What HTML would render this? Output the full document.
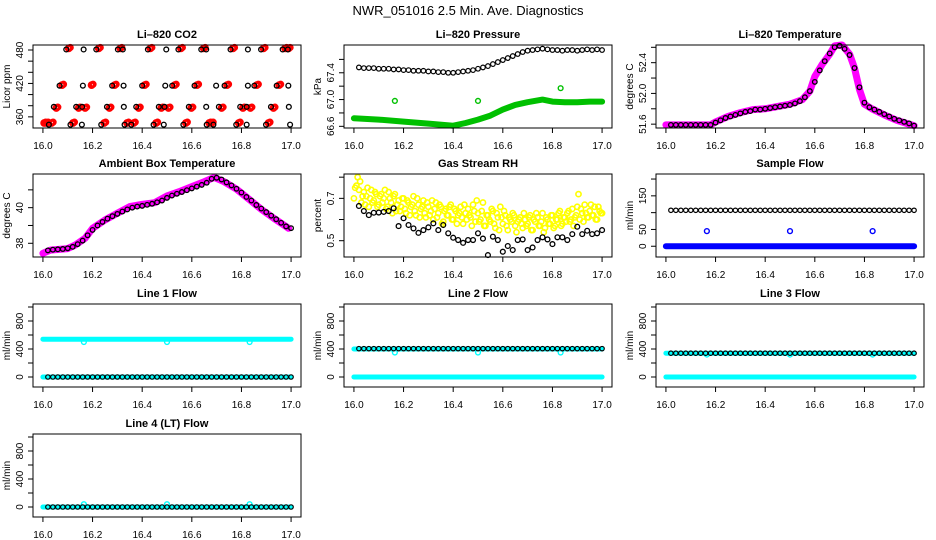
<!DOCTYPE html>
<html><head><meta charset="utf-8"><style>
html,body{margin:0;padding:0;background:#fff}
svg{display:block;font-family:"Liberation Sans",Arial,sans-serif}
</style></head><body>
<svg id="chart" width="936" height="540" viewBox="0 0 936 540" xmlns="http://www.w3.org/2000/svg">
<rect x="0" y="0" width="936" height="540" fill="#fff"/>
<text x="468" y="15" font-size="13" text-anchor="middle">NWR_051016  2.5 Min. Ave. Diagnostics</text>
</svg>
<script>
// ---------- shared categories ----------
const xTicks = [16.0,16.2,16.4,16.6,16.8,17.0];
const xTickLabels = ["16.0","16.2","16.4","16.6","16.8","17.0"];
const t50 = [16.02,16.04,16.06,16.08,16.10,16.12,16.14,16.16,16.18,16.20,16.22,16.24,16.26,16.28,16.30,16.32,16.34,16.36,16.38,16.40,16.42,16.44,16.46,16.48,16.50,16.52,16.54,16.56,16.58,16.60,16.62,16.64,16.66,16.68,16.70,16.72,16.74,16.76,16.78,16.80,16.82,16.84,16.86,16.88,16.90,16.92,16.94,16.96,16.98,17.00];
const outlierTimes = [16.165,16.5,16.833];

// ---------- CO2 ----------
const co2Levels = [481,416,378,346];
const co2BlackX = [
 [16.094,16.164,16.215,16.302,16.322,16.423,16.497,16.546,16.638,16.658,16.756,16.826,16.879,16.966,16.987],
 [16.067,16.161,16.279,16.325,16.40,16.493,16.521,16.611,16.698,16.732,16.826,16.852,16.942,16.989],
 [16.044,16.134,16.158,16.258,16.326,16.376,16.467,16.49,16.588,16.658,16.709,16.795,16.821,16.919,16.991],
 [16.024,16.111,16.157,16.235,16.329,16.356,16.446,16.487,16.566,16.66,16.687,16.779,16.821,16.899,16.996]];
const co2RedX = [
 [16.104,16.225,16.312,16.433,16.556,16.648,16.766,16.889,16.976,16.99],
 [16.077,16.196,16.289,16.41,16.531,16.621,16.742,16.862,16.952],
 [16.054,16.144,16.17,16.268,16.386,16.477,16.506,16.598,16.72,16.806,16.836,16.929],
 [16.005,16.015,16.035,16.121,16.247,16.339,16.366,16.456,16.576,16.67,16.68,16.789,16.909]];
const co2RedY = [483,417,376,349];

// ---------- Pressure ----------
const presBlack = [67.48,67.47,67.47,67.47,67.46,67.46,67.46,67.45,67.45,67.44,67.44,67.43,67.43,67.43,67.42,67.42,67.41,67.41,67.40,67.40,67.41,67.42,67.43,67.44,67.46,67.48,67.50,67.53,67.56,67.59,67.62,67.65,67.68,67.71,67.73,67.74,67.75,67.76,67.75,67.74,67.74,67.73,67.74,67.74,67.73,67.74,67.75,67.74,67.75,67.74];
const presGreenX = [16.0,16.1,16.2,16.3,16.4,16.45,16.5,16.55,16.6,16.65,16.7,16.76,16.8,16.85,16.9,16.95,17.0];
const presGreenY = [66.72,66.70,66.67,66.64,66.61,66.65,66.70,66.76,66.85,66.92,66.96,67.00,66.97,66.96,66.96,66.97,66.97];
const presOutY = [66.98,66.98,67.17];

// ---------- Li-820 Temperature ----------
const tempBlack = [51.59,51.59,51.59,51.59,51.59,51.59,51.59,51.59,51.59,51.62,51.65,51.68,51.70,51.72,51.74,51.76,51.77,51.79,51.79,51.80,51.81,51.82,51.83,51.84,51.85,51.87,51.90,51.95,52.03,52.15,52.30,52.42,52.52,52.60,52.62,52.58,52.50,52.33,52.08,51.88,51.82,51.79,51.76,51.73,51.70,51.67,51.65,51.63,51.61,51.58];
const tempMagX = [16.0,16.18,16.2,16.25,16.3,16.35,16.4,16.45,16.5,16.55,16.58,16.6,16.63,16.66,16.68,16.71,16.74,16.76,16.78,16.8,16.83,16.88,16.93,16.97,17.0];
const tempMagY = [51.59,51.59,51.63,51.70,51.75,51.79,51.80,51.83,51.86,51.92,52.03,52.22,52.38,52.51,52.62,52.63,52.51,52.33,52.05,51.86,51.80,51.72,51.65,51.61,51.58];

// ---------- Ambient ----------
const ambBlack = [37.60,37.64,37.66,37.68,37.72,37.80,37.95,38.15,38.45,38.75,39.00,39.20,39.38,39.52,39.65,39.78,39.90,40.00,40.06,40.10,40.16,40.22,40.30,40.40,40.55,40.68,40.78,40.88,40.98,41.08,41.18,41.28,41.40,41.62,41.68,41.58,41.42,41.25,41.06,40.85,40.60,40.40,40.15,39.95,39.75,39.55,39.35,39.15,38.95,38.85];
const ambMagX = [16.0,16.03,16.1,16.13,16.17,16.2,16.25,16.3,16.35,16.4,16.45,16.5,16.55,16.6,16.65,16.69,16.73,16.78,16.83,16.88,16.93,16.97,16.99];
const ambMagY = [37.44,37.62,37.70,37.90,38.28,38.84,39.31,39.69,40.06,40.19,40.28,40.66,40.90,41.18,41.46,41.70,41.46,41.04,40.48,39.91,39.41,39.03,38.84];

// ---------- Gas stream RH ----------
const rhYellowA = [.70,.76,.74,.68,.73,.71,.66,.74,.69,.72,.67,.72,.70,.65,.73,.68,.71,.64,.69,.66,.70,.63,.68,.66,.71,.62,.67,.65,.69,.61,.66,.64,.60,.68,.63,.66,.59,.65,.62,.67,.60,.64,.62,.66,.58,.63,.65,.61,.67,.59,.63,.60,.68,.57,.62,.59,.64,.56,.61,.66,.58,.62,.55,.60,.63,.57,.59,.61,.56,.60,.58,.62,.55,.59,.61,.57,.63,.56,.60,.58,.62,.57,.60,.64,.58,.61,.63,.59,.65,.61,.66,.60,.63,.67,.61,.64,.62,.66,.60,.64,.63];
const rhYellowB = [.75,.80,.78,.71,.67,.75,.70,.68,.73,.66,.71,.68,.74,.66,.70,.63,.72,.67,.64,.70,.65,.69,.62,.67,.64,.70,.61,.66,.63,.68,.62,.69,.65,.61,.67,.58,.64,.62,.66,.60,.65,.58,.63,.61,.67,.60,.62,.57,.64,.69,.59,.64,.57,.62,.60,.65,.58,.63,.55,.61,.64,.57,.61,.59,.62,.54,.60,.58,.63,.57,.61,.55,.60,.63,.57,.59,.54,.61,.58,.62,.56,.60,.63,.57,.61,.59,.64,.60,.57,.62,.72,.65,.59,.63,.61,.67,.62,.60,.66,.63];
const rhBlack = [.664,.640,.621,.632,.633,.636,.640,.653,.569,.606,.574,.558,.537,.550,.563,.582,.550,.574,.535,.514,.503,.490,.503,.503,.535,.510,.432,.519,.503,.448,.475,.456,.503,.506,.456,.468,.503,.516,.506,.484,.516,.516,.503,.531,.566,.531,.547,.531,.535,.550];

// ---------- Flows ----------
const sampleBlack = [107,107,107,107,107,107,107,107,107,107,107,107,107,107,107,107,107,107,107,107,107,107,107,107,107,107,107,107,107,107,107,107,107,107,107,107,107,107,107,107,107,107,107,107,107,107,107,107,107,107];
const sampleBlueLevel = [0];
const sampleOutY = [45,45,45];
const line1Black = [0,0,0,0,0,0,0,0,0,0,0,0,0,0,0,0,0,0,0,0,0,0,0,0,0,0,0,0,0,0,0,0,0,0,0,0,0,0,0,0,0,0,0,0,0,0,0,0,0,0];
const line1CyanLevels = [540,0];
const line1OutY = [500,500,500];
const line2Black = [405,405,405,405,405,405,405,405,405,405,405,405,405,405,405,405,405,405,405,405,405,405,405,405,405,405,405,405,405,405,405,405,405,405,405,405,405,405,405,405,405,405,405,405,405,405,405,405,405,405];
const line2CyanLevels = [400,0];
const line2OutY = [350,350,350];
const line3Black = [340,340,340,340,340,340,340,340,340,340,340,340,340,340,340,340,340,340,340,340,340,340,340,340,340,340,340,340,340,340,340,340,340,340,340,340,340,340,340,340,340,340,340,340,340,340,340,340,340,340];
const line3CyanLevels = [340,0];
const line3OutY = [320,320,320];
const line4Black = [0,0,0,0,0,0,0,0,0,0,0,0,0,0,0,0,0,0,0,0,0,0,0,0,0,0,0,0,0,0,0,0,0,0,0,0,0,0,0,0,0,0,0,0,0,0,0,0,0,0];
const line4CyanLevels = [0];
const line4OutY = [40,40,40];
const flowTicks = [0,200,400,600,800,1000];
const flowTickLabels = ["0","","400","","800",""];

const svg = document.getElementById('chart');
const NS = 'http://www.w3.org/2000/svg';
function mk(tag, attrs, parent){
  const e = document.createElementNS(NS, tag);
  for (const k in attrs) e.setAttribute(k, attrs[k]);
  (parent||svg).appendChild(e);
  return e;
}
const colL = [33,344,656];
const rowT = [45,174,304,434];
const BW = 268, BH = 83;

function panel(col,row,title,yTitle,ymin,ymax,yTicks,yLabels,name){
  const L = colL[col], T = rowT[row];
  const g = mk('g',{});
  
  
  const sx = v => L + (v-15.96)/1.08*BW;
  const sy = v => T + BH - (v-ymin)/(ymax-ymin)*BH;
  const plot = mk('g',{},g);
  
  
  const tt = mk('text',{x:L+BW/2,y:T-7,'font-size':11,'font-weight':'bold','text-anchor':'middle'},g);
  tt.textContent = title;
  
  
  const xa = mk('g',{},g);
  
  
  mk('line',{x1:sx(xTicks[0]),x2:sx(xTicks[xTicks.length-1]),y1:T+BH,y2:T+BH,stroke:'#000'},xa);
  xTicks.forEach((v,i)=>{
    mk('line',{x1:sx(v),x2:sx(v),y1:T+BH,y2:T+BH+5,stroke:'#000'},xa);
    const t = mk('text',{x:sx(v),y:T+BH+21,'font-size':10,'text-anchor':'middle'},xa);
    t.textContent = xTickLabels[i];
    
    
  });
  const ya = mk('g',{},g);
  
  
  mk('line',{x1:L,x2:L,y1:sy(yTicks[0]),y2:sy(yTicks[yTicks.length-1]),stroke:'#000'},ya);
  yTicks.forEach((v,i)=>{
    mk('line',{x1:L-5,x2:L,y1:sy(v),y2:sy(v),stroke:'#000'},ya);
    if (yLabels[i]) {
      const t = mk('text',{x:0,y:0,'font-size':10,'text-anchor':'middle',transform:`translate(${L-10},${sy(v)}) rotate(-90)`},ya);
      t.textContent = yLabels[i];
      
      
    }
  });
  const yt = mk('text',{x:0,y:0,'font-size':10,'text-anchor':'middle',transform:`translate(${L-23},${T+BH/2}) rotate(-90)`},g);
  yt.textContent = yTitle;
  
  
  const box = mk('rect',{x:L,y:T,width:BW,height:BH,fill:'none',stroke:'#000'},g);
  
  
  return {sx,sy,plot};
}
function pts(p,xs,ys,color,nm,r,sw){
  const g = mk('g',{},p.plot);
  
  
  xs.forEach((x,i)=>{
    const c = mk('circle',{cx:p.sx(x),cy:p.sy(ys[i]),r:r||2.4,fill:'none',stroke:color,'stroke-width':sw||1.1},g);
    
    
  });
}
function band(p,xs,ys,color,nm,w){
  const d = xs.map((x,i)=>(i?'L':'M')+p.sx(x).toFixed(1)+' '+p.sy(ys[i]).toFixed(1)).join(' ');
  const e = mk('path',{d:d,fill:'none',stroke:color,'stroke-width':w||6,'stroke-linecap':'round','stroke-linejoin':'round'},p.plot);
  
  
}

// CO2
let p = panel(0,0,'Li\u2013820 CO2','Licor ppm',340,489,[360,380,400,420,440,460,480],['360','','','420','','','480'],'co2');
co2RedX.forEach((xs,k)=>{ pts(p,xs,xs.map(()=>co2RedY[k]),'#f00','co2-red-series',2.6,2.6); pts(p,xs.map(x=>x+0.006),xs.map(()=>co2RedY[k]+1.5),'#f00','co2-red-series',2.4,2.4); });
co2BlackX.forEach((xs,k)=>pts(p,xs,xs.map(()=>co2Levels[k]),'#000','co2-black-series',2.4,1.3));

// Pressure
p = panel(1,0,'Li\u2013820 Pressure','kPa',66.575,67.815,[66.6,66.8,67.0,67.2,67.4,67.6],['66.6','','67.0','','67.4',''],'pressure');
band(p,presGreenX,presGreenY,'#00c000','pressure-green-band',6);
pts(p,outlierTimes,presOutY,'#00c000','pressure-green-outliers',2.4,1.4);
pts(p,t50,presBlack,'#000','pressure-black-series',2.3,1.2);

// Temperature
p = panel(2,0,'Li\u2013820 Temperature','degrees C',51.55,52.63,[51.6,51.8,52.0,52.2,52.4,52.6],['51.6','','52.0','','52.4',''],'li820-temp');
band(p,tempMagX,tempMagY,'#ff00ff','temp-magenta-band',7);
pts(p,t50,tempBlack,'#000','temp-black-series',2.3,1.3);

// Ambient
p = panel(0,1,'Ambient Box Temperature','degrees C',37.23,41.89,[38,39,40,41],['38','','40',''],'ambient');
band(p,ambMagX,ambMagY,'#ff00ff','ambient-magenta-band',7);
pts(p,t50,ambBlack,'#000','ambient-black-series',2.3,1.3);

// RH
p = panel(1,1,'Gas Stream RH','percent',0.423,0.815,[0.5,0.6,0.7,0.8],['0.5','','0.7',''],'rh');
pts(p,rhYellowA.map((v,i)=>16+i*0.01),rhYellowA,'#ffff00','rh-yellow-series',2.6,1.6);
pts(p,rhYellowB.map((v,i)=>16.005+i*0.01),rhYellowB,'#ffff00','rh-yellow-series',2.6,1.6);
pts(p,t50,rhBlack,'#000','rh-black-series',2.4,1.3);

// Sample flow
p = panel(2,1,'Sample Flow','ml/min',-32,215,[0,50,100,150,200],['0','50','','150',''],'sample-flow');
band(p,[16.0,17.0],[sampleBlueLevel[0],sampleBlueLevel[0]],'#0000ff','sample-blue-band',6);
pts(p,outlierTimes,sampleOutY,'#0000ff','sample-blue-outliers',2.4,1.4);
pts(p,t50,sampleBlack,'#000','sample-black-series',2.2,1.2);

function flowPanel(col,row,title,name,black,cyanLevels,outY){
  const q = panel(col,row,title,'ml/min',-143,1043,flowTicks,flowTickLabels,name);
  cyanLevels.forEach(v=>band(q,[16.0,17.0],[v,v],'#00ffff',name+'-cyan-band',5));
  pts(q,outlierTimes,outY,'#00ffff',name+'-cyan-outliers',2.4,1.4);
  pts(q,t50,black,'#000',name+'-black-series',2.2,1.2);
}
flowPanel(0,2,'Line 1 Flow','line1-flow',line1Black,line1CyanLevels,line1OutY);
flowPanel(1,2,'Line 2 Flow','line2-flow',line2Black,line2CyanLevels,line2OutY);
flowPanel(2,2,'Line 3 Flow','line3-flow',line3Black,line3CyanLevels,line3OutY);
flowPanel(0,3,'Line 4 (LT) Flow','line4-flow',line4Black,line4CyanLevels,line4OutY);
</script>
</body></html>
